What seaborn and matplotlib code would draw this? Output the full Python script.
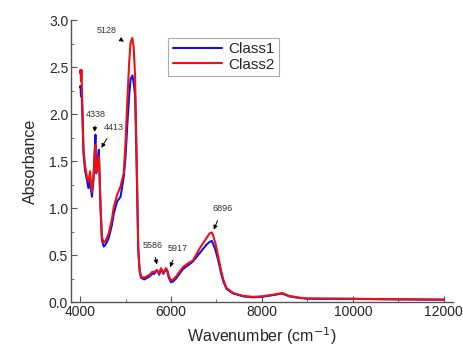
import matplotlib
matplotlib.use("Agg")
import matplotlib.pyplot as plt
import seaborn as sns
import pandas as pd
from matplotlib.ticker import MultipleLocator

# spectrum (wavenumber in cm^-1)
wavenumber = [4000, 4010, 4020, 4030, 4050, 4075, 4110, 4150, 4185, 4220, 4260, 4295,
              4320, 4338, 4355, 4385, 4413, 4430, 4450, 4480, 4520, 4560, 4630, 4700,
              4740, 4815, 4890, 4960, 5000, 5040, 5080, 5110, 5150, 5180, 5210, 5245,
              5280, 5310, 5340, 5410, 5520, 5586, 5630, 5690, 5740, 5780, 5830, 5890,
              5917, 5950, 6000, 6050, 6110, 6260, 6400, 6480, 6630, 6780, 6850, 6896,
              6925, 6980, 7040, 7100, 7150, 7220, 7370, 7590, 7800, 8000, 8200, 8450,
              8600, 8800, 9000, 9500, 10000, 10500, 11000, 11500, 12000]

class1 = [2.29, 2.30, 2.19, 2.28, 2.0, 1.58, 1.40, 1.30, 1.21, 1.30, 1.12, 1.30,
          1.60, 1.78, 1.37, 1.50, 1.62, 1.33, 1.00, 0.66, 0.59, 0.61, 0.68, 0.82,
          0.94, 1.07, 1.12, 1.33, 1.55, 1.90, 2.20, 2.37, 2.41, 2.33, 2.20, 1.44,
          0.55, 0.33, 0.26, 0.24, 0.27, 0.30, 0.30, 0.34, 0.29, 0.35, 0.30, 0.35,
          0.33, 0.26, 0.21, 0.22, 0.25, 0.35, 0.40, 0.43, 0.52, 0.61, 0.64, 0.65,
          0.62, 0.55, 0.44, 0.31, 0.22, 0.14, 0.09, 0.06, 0.05, 0.055, 0.07, 0.09,
          0.06, 0.045, 0.035, 0.034, 0.033, 0.03, 0.028, 0.026, 0.024]

class2 = [2.44, 2.47, 2.35, 2.47, 2.1, 1.62, 1.45, 1.33, 1.28, 1.39, 1.17, 1.35,
          1.55, 1.67, 1.38, 1.45, 1.55, 1.33, 1.02, 0.69, 0.63, 0.65, 0.73, 0.88,
          1.01, 1.14, 1.23, 1.37, 1.70, 2.15, 2.55, 2.76, 2.81, 2.70, 2.40, 1.50,
          0.57, 0.34, 0.27, 0.26, 0.285, 0.32, 0.32, 0.34, 0.30, 0.36, 0.31, 0.36,
          0.34, 0.28, 0.23, 0.24, 0.27, 0.37, 0.42, 0.44, 0.57, 0.68, 0.73, 0.74,
          0.71, 0.62, 0.48, 0.34, 0.24, 0.15, 0.095, 0.065, 0.055, 0.06, 0.075, 0.095,
          0.065, 0.048, 0.038, 0.036, 0.035, 0.032, 0.03, 0.028, 0.026]

# peak labels: (text, text position, arrow tip)
peaks = [("5128", (4578, 2.89), (4963, 2.77)),
         ("4338", (4348, 2.00), (4318, 1.81)),
         ("4413", (4740, 1.86), (4467, 1.64)),
         ("5586", (5593, 0.60), (5690, 0.40)),
         ("5917", (6148, 0.57), (5978, 0.37)),
         ("6896", (7133, 0.99), (6940, 0.77))]

df = pd.DataFrame({"Wavenumber": wavenumber * 2,
                   "Absorbance": class1 + class2,
                   "Class": ["Class1"] * len(class1) + ["Class2"] * len(class2)})

sns.set_style("white")
plt.rcParams["font.family"] = ["Liberation Sans", "DejaVu Sans"]

fig = plt.figure(figsize=(4.64, 3.52), dpi=100)
ax = fig.add_axes([0.153, 0.142, 0.823, 0.801])

sns.lineplot(data=df, x="Wavenumber", y="Absorbance", hue="Class",
             palette={"Class1": "#1010ee", "Class2": "#ee1111"},
             linewidth=1.5, ax=ax)

for label, xytext, xy in peaks:
    ax.annotate(label, xy=xy, xytext=xytext, fontsize=6.5, color="#333333",
                ha="center", va="center",
                arrowprops=dict(arrowstyle="-|>", color="black", lw=0.7,
                                mutation_scale=6, shrinkA=3, shrinkB=0))

ax.set_xlim(3800, 12200)
ax.set_ylim(0, 3.0)
ax.xaxis.set_major_locator(MultipleLocator(2000))
ax.xaxis.set_minor_locator(MultipleLocator(1000))
ax.yaxis.set_major_locator(MultipleLocator(0.5))
ax.yaxis.set_minor_locator(MultipleLocator(0.25))
ax.yaxis.set_major_formatter(matplotlib.ticker.FormatStrFormatter("%.1f"))
ax.tick_params(which="both", direction="in", color="#555555", labelsize=10, pad=2)
ax.tick_params(which="major", length=4)
ax.tick_params(which="minor", length=2.5)
ax.tick_params(axis="x", which="both", bottom=True)
ax.tick_params(axis="y", which="both", left=True)

sns.despine(ax=ax)
for side in ["left", "bottom"]:
    ax.spines[side].set_color("#555555")
    ax.spines[side].set_linewidth(1.0)

ax.set_xlabel("Wavenumber (cm$^{-1}$)", fontsize=11.5, labelpad=5)
ax.set_ylabel("Absorbance", fontsize=11.5, labelpad=8)

leg = ax.legend(loc="upper left", bbox_to_anchor=(0.235, 0.965), fontsize=11,
                frameon=True, fancybox=False, handlelength=3.2,
                borderpad=0.3, labelspacing=0.1, handletextpad=0.4)
leg.get_frame().set_edgecolor("#999999")
leg.get_frame().set_linewidth(0.8)

fig.savefig("out.png", dpi=100)
